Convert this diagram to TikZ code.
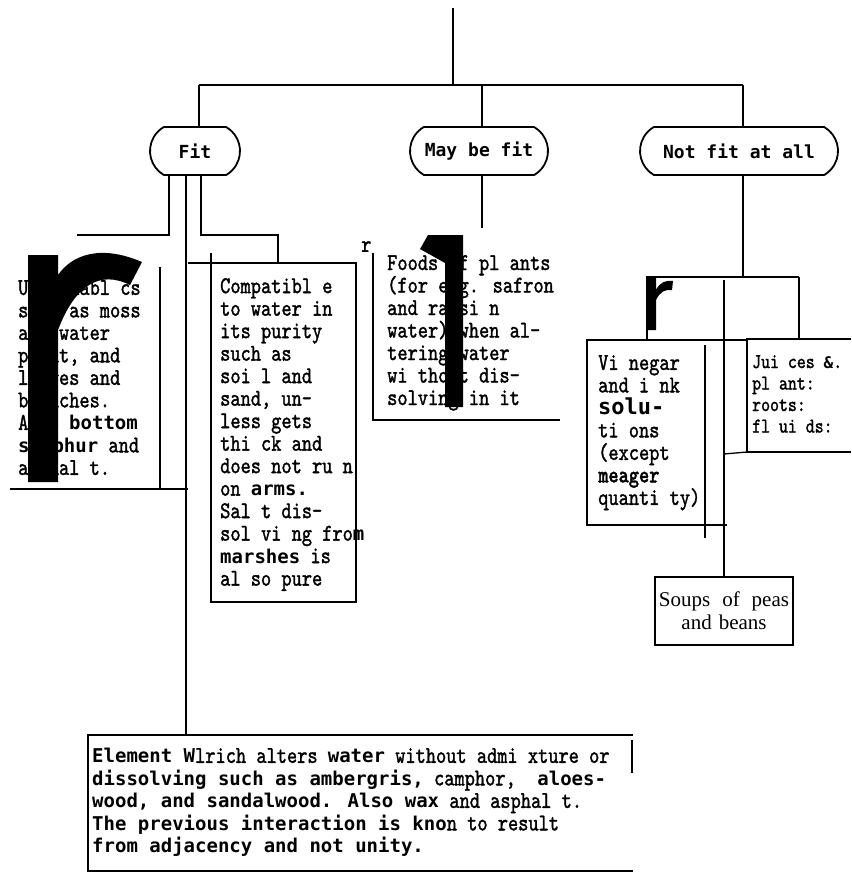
\documentclass[tikz,border=0pt]{standalone}
\usepackage{fontspec}
\setmainfont{Liberation Serif}
\newfontfamily\rgfam{lmmono10-regular.otf}[BoldFont=lmmonolt10-bold.otf,FakeStretch=0.81,FakeBold=1.4]
\newfontfamily\bdfam{DejaVu Sans Mono}
\usetikzlibrary{shapes.misc}
\newcommand\rgtext{\rgfam\fontsize{24}{22.5}\selectfont}
\newcommand\bd[1]{{\bdfam\bfseries\fontsize{19}{22.5}\selectfont #1}}
\newcommand\pillfont{\bdfam\bfseries\fontsize{18}{20}\selectfont}
\begin{document}
\begin{tikzpicture}[x=1pt,y=-1pt,
  conn/.style={line width=1.3pt},
  heavy/.style={line width=2.6pt},
  pill/.style={rounded rectangle, rounded rectangle arc length=120, draw, line width=1.8pt,
    minimum height=48pt, inner sep=0pt, font=\pillfont},
  txt/.style={anchor=north west, inner sep=0pt, align=left, font=\rgtext},
  blot/.style={fill=black}]
\useasboundingbox (0,0) rectangle (851,875);
\fill[white] (0,0) rectangle (851,875);

% top nodes
\node[pill, minimum width=90pt] (fit) at (195,151) {Fit};
\node[pill, minimum width=138pt] (may) at (479,151) {May be fit};
\node[pill, minimum width=198pt] (nfit) at (739,151) {Not fit at all};

% trunk
\coordinate (top) at (453,8);
\coordinate (hub) at (453,85);
\coordinate (hl) at (199,85);
\coordinate (hm) at (482,85);
\coordinate (hr) at (743,85);
\draw[conn] (top) -- (hub);
\draw[conn] (hl) -- (hr);
\draw[conn] (hl) -- (hl |- fit.north);
\draw[conn] (hm) -- (hm |- may.north);
\draw[conn] (hr) -- (hr |- nfit.north);

% May be fit drop
\coordinate (mayend) at (482,228);
\draw[conn] (hm |- may.south) -- (mayend);

% Not fit branch
\coordinate (nj) at (743,277);
\coordinate (nl) at (647,277);
\coordinate (nr) at (799,277);
\coordinate (vin) at (647,340);
\coordinate (jin) at (799,339);
\draw[conn] (hr |- nfit.south) -- (nj);
\draw[line width=2pt] (vin) -- (nl) -- (nr);
\draw[heavy] (nr) -- (jin);

% Vinegar box
\coordinate (v1) at (587,340);
\coordinate (v2) at (747,340);
\coordinate (v3) at (587,525);
\coordinate (v4) at (727,525);
\draw[conn] (v2) -- (v1) -- (v3) -- (v4);
\coordinate (vi1) at (705,345);
\coordinate (vi2) at (705,538);
\draw[conn] (vi1) -- (vi2);

% Juices box
\coordinate (j1) at (747,339);
\coordinate (j2) at (851,339);
\coordinate (j3) at (747,452);
\coordinate (j4) at (851,452);
\draw[heavy] (j2) -- (j1) -- (j3) -- (j4);
\coordinate (jt1) at (724,454);
\draw[conn] (jt1) -- (j3);

% Soups box
\node[draw, heavy, minimum width=138pt, minimum height=68pt, inner sep=0pt, align=center,
  font=\fontsize{21}{23}\selectfont] (sbox) at (724,611)
  {Soups\hspace{12pt}of\hspace{12pt}peas\\and\hspace{7pt}beans};
\coordinate (lv) at (724,280);
\draw[conn] (lv) -- (sbox.north);
\coordinate (lvk) at (724,540);
\draw[heavy] (lvk) -- (sbox.north);

% Fit children
\coordinate (fa0) at ([xshift=-26pt]fit.south);
\coordinate (fa1) at (169,235);
\coordinate (fa2) at (77,235);
\draw[line width=2pt] (fa0) -- (fa1) -- (fa2);
\coordinate (fb0) at ([xshift=-9pt]fit.south);
\coordinate (fb1) at (186,735);
\draw[conn] (fb0) -- (fb1);
\coordinate (fc0) at ([xshift=6pt]fit.south);
\coordinate (fc1) at (201,235);
\coordinate (fc2) at (278,235);
\coordinate (fc3) at (278,263);
\draw[line width=2pt] (fc0) -- (fc1) -- (fc2) -- (fc3);

% left box
\coordinate (l1) at (160,267);
\coordinate (l2) at (160,489);
\coordinate (l3) at (10,489);
\coordinate (l4) at (188,489);
\draw[conn] (l1) -- (l2);
\draw[line width=2pt] (l3) -- (l4);

% compatible box
\coordinate (c0) at (188,263);
\coordinate (c1) at (340,263);
\coordinate (c2) at (356,263);
\coordinate (c3) at (356,420);
\coordinate (c4) at (356,602);
\coordinate (c5) at (211,602);
\coordinate (c6) at (211,253);
\draw[conn] (c0) -- (c1);
\draw[heavy] (c1) -- (c2) -- (c3);
\draw[conn] (c3) -- (c4) -- (c5) -- (c6);

% foods box
\coordinate (p1) at (373,253);
\coordinate (p2) at (373,420);
\coordinate (p3) at (560,420);
\draw[line width=2pt] (p1) -- (p2) -- (p3);

% bottom box
\coordinate (b1) at (633,735);
\coordinate (b2) at (88,735);
\coordinate (b3) at (88,871);
\coordinate (b4) at (633,871);
\coordinate (b2a) at (183,735);
\coordinate (b5) at (632,740);
\coordinate (b6) at (632,773);
\draw[conn] (b1) -- (b2) -- (b3) -- (b4);
\draw[heavy] (b2) -- (b2a);
\draw[heavy] (b5) -- (b6);

% texts
\node[txt] (lbox) at (18,280) {Unsoldabl cs\\such as moss\\and water\\plant, and\\leaves and\\branches.\\Also \bd{bottom}\\\bd{sulphur} and\\asphal t.};
\node[txt] (cbox) at (220,278) {Compatibl e\\to water in\\its purity\\such as\\soi l and\\sand, un-\\less gets\\thi ck and\\does not ru n\\on \bd{arms.}\\Sal t dis-\\sol vi ng fro\bd{m}\\\bd{marshes} is\\al so pure};
\node[txt] (fbox) at (387,255) {Foods of pl ants\\(for e.g. safron\\and raisi n\\water) when al-\\tering water\\wi thout dis-\\solving in it};
\node[txt] (vbox) at (598,355) {Vi negar\\and i nk\\{\bdfam\bfseries\fontsize{22}{22.5}\selectfont solu-}\\ti ons\\(except\\{\bfseries meager}\\quanti ty)};
\node[txt, font=\rgfam\fontsize{21}{21.5}\selectfont] (jbox) at (752,355) {Jui ces {\bdfam\bfseries\fontsize{16}{21.5}\selectfont\&}.\\pl ant:\\roots:\\fl ui ds:};
\node[txt] (ebox) at (92,748) {\bd{Element W}lrich alters \bd{water} without admi xture or\\\bd{dissolving such as ambergris,} camphor, \bd{ aloes-}\\\bd{wood, and sandalwood.  Also wax} and asphal t.\\\bd{The previous interaction is kno}n to result\\\bd{from adjacency and not unity.}};
\node[anchor=south west, inner sep=0pt, font=\rgtext] (rsm) at (361,252) {r};

% printed blots
\fill[blot] (28,255) -- (58,255) -- (58,275) .. controls (72,255) and (100,244) .. (142,262)
  -- (130,285) .. controls (100,270) and (75,285) .. (58,330) -- (58,482) -- (28,482) -- cycle;
\fill[blot] (428,235) -- (463,235) -- (463,407) -- (445,407) -- (445,263) -- (420,249) -- cycle;
\fill[blot] (646,278) -- (656,278) -- (656,290) .. controls (660,282) and (666,280) .. (673,281)
  -- (672,290) .. controls (665,289) and (660,292) .. (656,300) -- (656,330) -- (646,330) -- cycle;
\end{tikzpicture}
\end{document}
